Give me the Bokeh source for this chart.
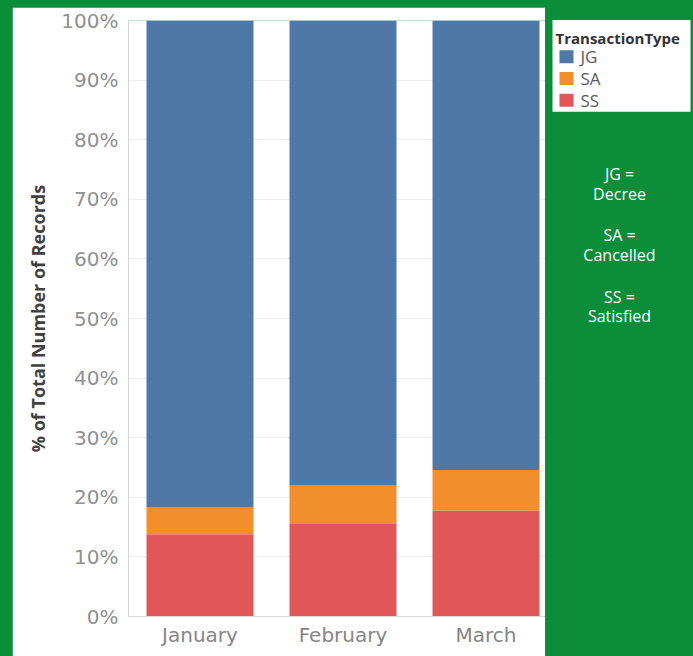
from bokeh.plotting import figure
from bokeh.models import Range1d, FixedTicker, NumeralTickFormatter, ColumnDataSource
from bokeh.layouts import row
from bokeh.embed import file_html
from bokeh.resources import INLINE
from bokeh.core.properties import value

# ---- data ----
months = ["January", "February", "March"]
types = ["JG", "SA", "SS"]
type_desc = ["Decree", "Cancelled", "Satisfied"]
colors = {"JG": "#4e79a7", "SA": "#f28e2b", "SS": "#e15759"}
SS = [0.138, 0.155, 0.178]
SA = [0.045, 0.065, 0.068]
JG = [0.817, 0.780, 0.754]
y_ticks = [0.0, 0.1, 0.2, 0.3, 0.4, 0.5, 0.6, 0.7, 0.8, 0.9, 1.0]

GREEN = "#0b8d39"
FONT = "DejaVu Sans"
FONT2 = "Open Sans"

xpos = [i + 0.5 for i in range(len(months))]
src = ColumnDataSource(dict(x=xpos, month=months, SS=SS, SA=SA, JG=JG))

p = figure(width=533, height=649, x_range=Range1d(0, 2.916), y_range=Range1d(0, 1.0),
           output_backend="svg", toolbar_location=None, tools="",
           min_border_left=116, min_border_right=0, min_border_top=13, min_border_bottom=40,
           background_fill_color="white", border_fill_color="white", outline_line_color=None)
p.margin = (7, 0, 0, 12)

p.vbar_stack(["SS", "SA", "JG"], x="x", width=0.748, source=src,
             color=[colors["SS"], colors["SA"], colors["JG"]], line_color=None)

p.xgrid.grid_line_color = None
p.ygrid.grid_line_color = "#eeeeee"
p.ygrid.grid_line_width = 1

ya = p.yaxis[0]
ya.ticker = FixedTicker(ticks=y_ticks)
ya.formatter = NumeralTickFormatter(format="0%")
ya.axis_line_color = "#d4d4d4"
ya.major_tick_line_color = None
ya.minor_tick_line_color = None
ya.major_label_text_font = FONT
ya.major_label_text_font_size = "20px"
ya.major_label_text_color = "#909090"
ya.major_label_standoff = 4
ya.axis_label = "% of Total Number of Records"
ya.axis_label_text_font = FONT2
ya.axis_label_text_font_size = "18px"
ya.axis_label_text_font_style = "bold"
ya.axis_label_text_color = "#404040"
ya.axis_label_standoff = 8

xa = p.xaxis[0]
xa.ticker = FixedTicker(ticks=xpos)
xa.major_label_overrides = {x: m for x, m in zip(xpos, months)}
xa.axis_line_color = "#d9d9d9"
xa.major_tick_line_color = None
xa.minor_tick_line_color = None
xa.major_label_text_font = FONT
xa.major_label_text_font_size = "20px"
xa.major_label_text_color = "#858585"
xa.major_label_standoff = 0

# ---- legend + notes panel ----
q = figure(width=148, height=656, x_range=Range1d(0, 148), y_range=Range1d(656, 0),
           output_backend="svg", toolbar_location=None, tools="",
           min_border=0, background_fill_color=GREEN, border_fill_color=GREEN,
           outline_line_color=None)
q.axis.visible = False
q.grid.visible = False

q.quad(left=[7], right=[145], top=[7], bottom=[107], color="white", line_color=None)
q.text(x=[10], y=[27], text=["TransactionType"], text_font=value(FONT2),
       text_font_size="15px", text_font_style="bold", text_color="#333333",
       text_baseline="middle", text_align="left")

ly = [47 + 23.7 * i for i in range(len(types))]
q.rect(x=[21] * len(types), y=ly, width=14, height=14,
       color=[colors[t] for t in types], line_color=None)
q.text(x=[35] * len(types), y=ly, text=types, text_font=value(FONT2),
       text_font_size="17px", text_color="#5a5a5a", text_baseline="middle", text_align="left")

ny1 = [175 + 66.5 * i for i in range(len(types))]
ny2 = [y + 21.5 for y in ny1]
q.text(x=[74] * len(types), y=ny1, text=[t + " =" for t in types], text_font=value(FONT2),
       text_font_size="16px", text_color="white", text_baseline="middle", text_align="center")
q.text(x=[74] * len(types), y=ny2, text=type_desc, text_font=value(FONT2),
       text_font_size="16px", text_color="white", text_baseline="middle", text_align="center")

layout = row(p, q)
html = file_html(layout, INLINE)
html = html.replace("</head>", "<style>html,body{background-color:%s;}</style></head>" % GREEN, 1)
open("out.html", "w").write(html)
